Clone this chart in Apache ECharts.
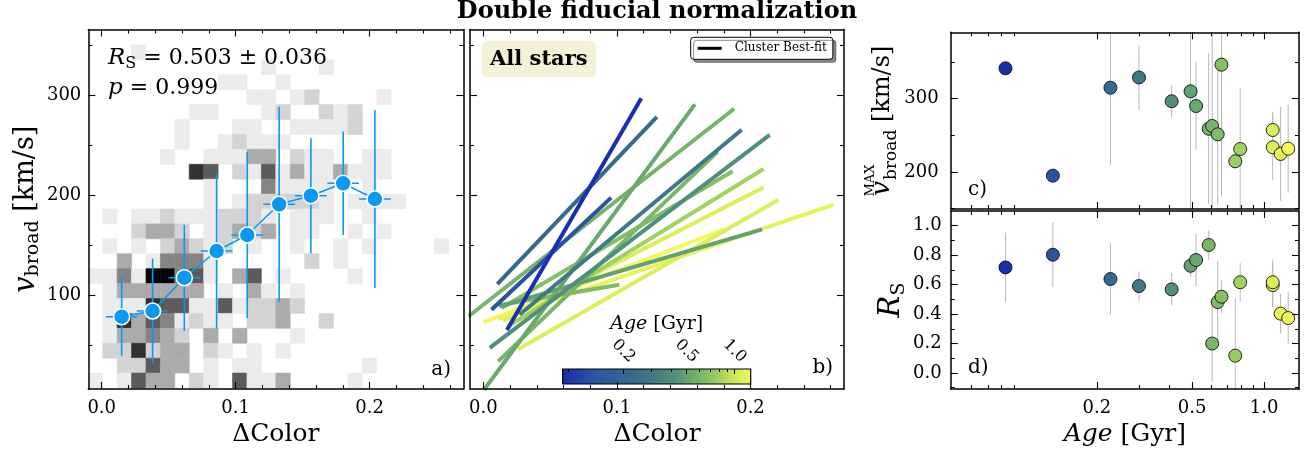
<!DOCTYPE html>
<html><head><meta charset="utf-8">
<script src="https://cdn.jsdelivr.net/npm/echarts@6/dist/echarts.min.js"></script>
<style>html,body{margin:0;padding:0;background:#fff}#c{width:1314px;height:458px}</style>
</head><body><div id="c"></div><script>
// ---------------- data ----------------
// panel a: 2D histogram (counts level 0..7), rows top (high v) -> bottom (low v)
const histXRange = [-0.01, 0.27];
const histYRange = [7, 365];
const histRows = [
"00000000000000000000000000",
"00010000000000000000000000",
"00000000000010001000000000",
"00000000011001000000000000",
"00000000000110120000100000",
"00000001100012002120000000",
"00000010001100111120000000",
"00000010012111000000000000",
"00000100111330211001100000",
"00000006502151311311100000",
"00000000100041111001000000",
"00000000101222221011110000",
"01011211122210111001000000",
"00023320123230110010100000",
"01010232120100100101000010",
"00301444100000020100000000",
"11417745103501000010000000",
"01333333010310100000000000",
"01116551151223200000000000",
"01635412110223002000000000",
"01334320303000100000000000",
"02262330210101000000000000",
"00225330101100000001000000",
"10153302105113000010000000"
];
// panel a: binned medians
const binColor = [0.0149, 0.0380, 0.0617, 0.0858, 0.1087, 0.1325, 0.1562, 0.1803, 0.2040];
const binColorErr = [0.0118, 0.0118, 0.0118, 0.0118, 0.0118, 0.0118, 0.0118, 0.0118, 0.0118];
const binVbroad = [78.3, 84, 117.3, 144, 160, 190.7, 199.3, 211.7, 196];
const binVbroadErr = [39, 52.5, 53, 77.5, 83, 97.5, 57.5, 51.7, 89];
// panel b: cluster best-fit segments
const fitX0 = [0.0184, 0.0072, 0.0115, 0.0284, 0.0060, 0.0013, -0.0099, 0.0130, 0.0134, 0.0122, 0.0150, 0.0200, 0.0162, 0.0274, 0.0013, 0.0125];
const fitY0 = [66.7, 86.7, 112.3, 81.7, 48.3, 6.7, 80, 90, 89, 35, 88, 70, 75, 46.7, 73.3, 76.7];
const fitX1 = [0.1175, 0.0946, 0.1289, 0.1923, 0.2132, 0.1575, 0.1866, 0.1003, 0.2072, 0.1742, 0.1853, 0.2085, 0.2085, 0.2197, 0.1791, 0.2607];
const fitY1 = [295, 196, 276.7, 264, 259, 289, 285, 110, 165, 241.7, 222.7, 225, 206.7, 194.3, 165, 189.7];
const fitAge = [0.083, 0.131, 0.228, 0.30, 0.411, 0.52, 0.587, 0.64, 0.493, 0.607, 0.664, 0.795, 1.087, 1.087, 1.262, 1.173];
// panels c, d: clusters
const clusterAge = [0.083, 0.131, 0.228, 0.30, 0.411, 0.493, 0.52, 0.587, 0.607, 0.64, 0.664, 0.758, 0.795, 1.087, 1.087, 1.173, 1.262];
const clusterVmax = [341.5, 195, 315, 329, 296.5, 310, 290, 259, 262.8, 251.4, 346.4, 214.6, 231.4, 257.3, 233.7, 224.6, 231.8];
const clusterVmaxErr = [8, 8, 105, 44, 22, 175, 60, 103, 135, 96, 180, 10, 83, 25, 45, 64, 60];
const clusterRs = [0.717, 0.803, 0.638, 0.59, 0.568, 0.728, 0.767, 0.869, 0.2, 0.482, 0.518, 0.118, 0.616, 0.597, 0.616, 0.403, 0.373];
const clusterRsErr = [0.235, 0.22, 0.243, 0.1, 0.11, 0.075, 0.18, 0.1, 0.26, 0.28, 0.11, 0.39, 0.13, 0.15, 0.15, 0.135, 0.175];
// ticks
const colorTicks = [0, 0.1, 0.2];
const colorMinor = [0.02, 0.04, 0.06, 0.08, 0.12, 0.14, 0.16, 0.18, 0.22, 0.24, 0.26];
const vTicks = [100, 200, 300];
const vMinor = [50, 150, 250, 350];
const vmaxTicks = [200, 300];
const vmaxMinor = [150, 250, 350];
const rsTicks = [0, 0.2, 0.4, 0.6, 0.8, 1.0];
const rsMinor = [-0.1, 0.1, 0.3, 0.5, 0.7, 0.9];
const ageTicks = [0.2, 0.5, 1.0];
const ageMinor = [0.06, 0.07, 0.08, 0.09, 0.3, 0.4, 0.6, 0.7, 0.8, 0.9];

// ---------------- styles ----------------
const FONT = 'DejaVu Serif';
const BLUE = '#069AF3';
const GRAY = ['#ffffff', '#ebebeb', '#d3d3d3', '#ababab', '#848484', '#5b5b5b', '#313131', '#060606'];
const cmapStops = [[0, '#1a2eb0'], [0.17, '#2a55a2'], [0.37, '#36698e'], [0.5, '#417d82'], [0.6, '#52917a'],
  [0.66, '#65a46f'], [0.75, '#80bb66'], [0.82, '#9ccf5e'], [0.93, '#d6ea5e'], [1.0, '#f4f85a']];
const AGE_MIN = Math.min(...clusterAge), AGE_MAX = Math.max(...clusterAge);
function ageT(a) { return Math.log(a / AGE_MIN) / Math.log(AGE_MAX / AGE_MIN); }
function hex(h) { return [1, 3, 5].map(i => parseInt(h.slice(i, i + 2), 16)); }
function cmap(t) {
  t = Math.max(0, Math.min(1, t));
  for (let i = 1; i < cmapStops.length; i++) {
    if (t <= cmapStops[i][0]) {
      const [t0, c0] = cmapStops[i - 1], [t1, c1] = cmapStops[i];
      const f = (t - t0) / (t1 - t0), a = hex(c0), b = hex(c1);
      return 'rgb(' + a.map((v, j) => Math.round(v + (b[j] - v) * f)).join(',') + ')';
    }
  }
  return cmapStops[cmapStops.length - 1][1];
}

// ---------------- axes ----------------
function axisSet(dim, grid, o) {
  const pos = dim === 'x' ? ['bottom', 'top'] : ['left', 'right'];
  const common = { gridIndex: grid, type: o.type || 'value', min: o.min, max: o.max, z: 10, silent: true,
    splitLine: { show: false }, minorTick: { show: false } };
  if (o.type === 'log') common.logBase = 10;
  const line = { show: true, onZero: false, lineStyle: { color: '#000', width: 1.5 } };
  const noLine = { show: false, onZero: false };
  const tick = (vals, len) => ({ show: true, inside: true, length: len, customValues: vals, lineStyle: { color: '#000', width: 1.1 } });
  const lab = o.labels ? { show: true, customValues: o.major, margin: o.margin, color: '#000', fontFamily: FONT, fontSize: 18 } : { show: false };
  if (o.labels && o.fmt) lab.formatter = o.fmt;
  const out = [];
  const main = Object.assign({}, common, { position: pos[0], axisLine: line, axisTick: tick(o.major, 7), axisLabel: lab });
  if (o.name) Object.assign(main, { name: o.name, nameLocation: 'middle', nameGap: o.nameGap, nameTextStyle: o.nameStyle });
  out.push(main);
  out.push(Object.assign({}, common, { position: pos[0], axisLine: noLine, axisTick: tick(o.minor, 4), axisLabel: { show: false } }));
  out.push(Object.assign({}, common, { position: pos[1], axisLine: line, axisTick: tick(o.major, 7), axisLabel: { show: false } }));
  out.push(Object.assign({}, common, { position: pos[1], axisLine: noLine, axisTick: tick(o.minor, 4), axisLabel: { show: false } }));
  return out;
}
const f1 = v => Number(v).toFixed(1);
const deltaName = { fontFamily: FONT, fontSize: 25, color: '#000' };
const ageName = { fontFamily: FONT, fontSize: 25, color: '#000', rich: {
  i: { fontFamily: FONT, fontSize: 25, fontStyle: 'italic', color: '#000' },
  t: { fontFamily: FONT, fontSize: 25, color: '#000' } } };
const vName = { fontFamily: FONT, fontSize: 27, color: '#000', rich: {
  i: { fontFamily: FONT, fontSize: 29, fontStyle: 'italic', lineHeight: 34, color: '#000' },
  s: { fontFamily: FONT, fontSize: 19, lineHeight: 22, verticalAlign: 'bottom', color: '#000' },
  t: { fontFamily: FONT, fontSize: 27, lineHeight: 34, color: '#000' } } };
const vmaxName = { fontFamily: FONT, fontSize: 24, color: '#000', rich: {
  i: { fontFamily: FONT, fontSize: 26, fontStyle: 'italic', lineHeight: 36, color: '#000' },
  u: { fontFamily: FONT, fontSize: 13, lineHeight: 15, verticalAlign: 'top', width: 1, color: '#000' },
  s: { fontFamily: FONT, fontSize: 17, lineHeight: 22, verticalAlign: 'bottom', color: '#000' },
  t: { fontFamily: FONT, fontSize: 24, lineHeight: 36, color: '#000' } } };
const rsName = { fontFamily: FONT, fontSize: 28, color: '#000', rich: {
  i: { fontFamily: FONT, fontSize: 29, fontStyle: 'italic', lineHeight: 34, color: '#000' },
  s: { fontFamily: FONT, fontSize: 19, lineHeight: 22, verticalAlign: 'bottom', color: '#000' } } };

const xAxes = [].concat(
  axisSet('x', 0, { min: histXRange[0], max: histXRange[1], major: colorTicks, minor: colorMinor, labels: true, fmt: f1, margin: 10, name: 'ΔColor', nameGap: 33, nameStyle: deltaName }),
  axisSet('x', 1, { min: histXRange[0], max: histXRange[1], major: colorTicks, minor: colorMinor, labels: true, fmt: f1, margin: 10, name: 'ΔColor', nameGap: 33, nameStyle: deltaName }),
  axisSet('x', 2, { type: 'log', min: 0.049, max: 1.4, major: ageTicks, minor: ageMinor, labels: false }),
  axisSet('x', 3, { type: 'log', min: 0.049, max: 1.4, major: ageTicks, minor: ageMinor, labels: true, fmt: f1, margin: 10, name: '{i|Age}{t| [Gyr]}', nameGap: 33, nameStyle: ageName }),
  [
    { gridIndex: 4, type: 'log', logBase: 10, min: AGE_MIN, max: AGE_MAX, position: 'top', z: 10, silent: true,
      splitLine: { show: false }, axisLine: { show: false, onZero: false },
      axisTick: { show: true, inside: true, length: 5, customValues: ageTicks, lineStyle: { color: '#000', width: 1 } },
      axisLabel: { show: true, customValues: ageTicks, formatter: f1, rotate: 45, align: 'center', verticalAlign: 'middle', margin: 18, color: '#000', fontFamily: FONT, fontSize: 16 } },
    { gridIndex: 4, type: 'log', logBase: 10, min: AGE_MIN, max: AGE_MAX, position: 'top', z: 10, silent: true,
      splitLine: { show: false }, axisLine: { show: false, onZero: false },
      axisTick: { show: true, inside: true, length: 3, customValues: ageMinor, lineStyle: { color: '#000', width: 1 } },
      axisLabel: { show: false } }
  ]
);
const yAxes = [].concat(
  axisSet('y', 0, { min: 6, max: 365.5, major: vTicks, minor: vMinor, labels: true, margin: 7, name: '{i|v}{s|broad}{t| [km/s]}', nameGap: 45, nameStyle: vName }),
  axisSet('y', 1, { min: 6, max: 365.5, major: vTicks, minor: vMinor, labels: false }),
  axisSet('y', 2, { min: 149.5, max: 390.6, major: vmaxTicks, minor: vmaxMinor, labels: true, margin: 12, name: '{i|v}{u|MAX}{s|broad}{t| [km/s]}', nameGap: 42, nameStyle: vmaxName }),
  axisSet('y', 3, { min: -0.1086, max: 1.0998, major: rsTicks, minor: rsMinor, labels: true, fmt: f1, margin: 9, name: '{i|R}{s|S}', nameGap: 42, nameStyle: rsName }),
  [{ gridIndex: 4, type: 'value', min: 0, max: 1, show: false }]
);

// ---------------- series ----------------
const NX = histRows[0].length, NY = histRows.length;
const bw = (histXRange[1] - histXRange[0]) / NX, bh = (histYRange[1] - histYRange[0]) / NY;
const histData = [];
histRows.forEach((row, r) => {
  for (let i = 0; i < NX; i++) {
    const n = +row[i];
    if (n > 0) histData.push([histXRange[0] + (i + 0.5) * bw, histYRange[1] - (r + 0.5) * bh, n]);
  }
});
const series = [];
series.push({
  type: 'custom', xAxisIndex: 0, yAxisIndex: 0, clip: true, silent: true, z: 1, data: histData,
  renderItem: (p, api) => {
    const x = api.value(0), y = api.value(1), n = api.value(2);
    const a = api.coord([x - bw / 2, y + bh / 2]), b = api.coord([x + bw / 2, y - bh / 2]);
    return { type: 'rect', shape: { x: a[0], y: a[1], width: b[0] - a[0], height: b[1] - a[1] },
      style: { fill: GRAY[n], stroke: GRAY[n], lineWidth: 0.6 } };
  }
});
series.push({
  type: 'custom', xAxisIndex: 0, yAxisIndex: 0, clip: true, silent: true, z: 3,
  data: binColor.map((x, i) => [x, binVbroad[i], binColorErr[i], binVbroadErr[i]]),
  renderItem: (p, api) => {
    const x = api.value(0), y = api.value(1), xe = api.value(2), ye = api.value(3);
    const t = api.coord([x, y + ye]), b = api.coord([x, y - ye]), l = api.coord([x - xe, y]), r = api.coord([x + xe, y]);
    return { type: 'group', children: [
      { type: 'line', shape: { x1: t[0], y1: t[1], x2: b[0], y2: b[1] }, style: { stroke: BLUE, lineWidth: 1.6 } },
      { type: 'line', shape: { x1: l[0], y1: l[1], x2: r[0], y2: r[1] }, style: { stroke: BLUE, lineWidth: 1.6 } }
    ] };
  }
});
series.push({
  type: 'line', xAxisIndex: 0, yAxisIndex: 0, z: 5, silent: true,
  data: binColor.map((x, i) => [x, binVbroad[i]]),
  symbol: 'circle', symbolSize: 16, showSymbol: true,
  lineStyle: { color: BLUE, width: 1.5 },
  itemStyle: { color: BLUE, borderColor: '#fff', borderWidth: 1.6 }
});
// panel b lines, older (yellow) drawn first
fitAge.map((a, i) => i).sort((i, j) => fitAge[j] - fitAge[i]).forEach(i => {
  series.push({
    type: 'line', xAxisIndex: 4, yAxisIndex: 4, silent: true, z: 3, symbol: 'none',
    data: [[fitX0[i], fitY0[i]], [fitX1[i], fitY1[i]]],
    lineStyle: { color: cmap(ageT(fitAge[i])), width: 4, cap: 'square' }
  });
});
series.push({ type: 'line', name: 'Cluster Best-fit', xAxisIndex: 4, yAxisIndex: 4, data: [], color: '#000',
  lineStyle: { color: '#000', width: 3 } });
function errSeries(xi, vals, errs) {
  return {
    type: 'custom', xAxisIndex: xi, yAxisIndex: xi, clip: true, silent: true, z: 2,
    data: clusterAge.map((a, i) => [a, vals[i], errs[i]]),
    renderItem: (p, api) => {
      const x = api.value(0), y = api.value(1), e = api.value(2);
      const t = api.coord([x, y + e]), b = api.coord([x, y - e]);
      return { type: 'line', shape: { x1: t[0], y1: t[1], x2: b[0], y2: b[1] }, style: { stroke: '#b8b8b8', lineWidth: 1 } };
    }
  };
}
function scatterSeries(xi, vals) {
  return {
    type: 'scatter', xAxisIndex: xi, yAxisIndex: xi, z: 4, silent: true, symbolSize: 13,
    data: clusterAge.map((a, i) => ({ value: [a, vals[i]], itemStyle: { color: cmap(ageT(a)) } })),
    itemStyle: { borderColor: '#111', borderWidth: 0.9, opacity: 1 }
  };
}
series.push(errSeries(8, clusterVmax, clusterVmaxErr));
series.push(scatterSeries(8, clusterVmax));
series.push(errSeries(12, clusterRs, clusterRsErr));
series.push(scatterSeries(12, clusterRs));
// colorbar
series.push({
  type: 'custom', xAxisIndex: 16, yAxisIndex: 16, silent: true, z: 2, data: [[AGE_MIN, 0]],
  renderItem: (p, api) => {
    const a = api.coord([AGE_MIN, 1]), b = api.coord([AGE_MAX, 0]);
    return { type: 'rect', shape: { x: a[0], y: a[1], width: b[0] - a[0], height: b[1] - a[1] },
      style: { fill: { type: 'linear', x: 0, y: 0, x2: 1, y2: 0, colorStops: cmapStops.map(s => ({ offset: s[0], color: s[1] })) },
        stroke: '#000', lineWidth: 1.2 } };
  }
});

// ---------------- text ----------------
const txt = (x, y, text, size, align, extra) => ({ type: 'text', x: x, y: y, z: 100, silent: true,
  style: Object.assign({ text: text, fontFamily: FONT, fontSize: size, fill: '#000', align: align || 'left', verticalAlign: 'middle' }, extra || {}) });
const graphic = [
  txt(108, 58, '{i|R}{s|S}{t| = 0.503 ± 0.036}', 22, 'left', { rich: {
    i: { fontFamily: FONT, fontSize: 23, fontStyle: 'italic', lineHeight: 28, fill: '#000' },
    s: { fontFamily: FONT, fontSize: 16, lineHeight: 18, verticalAlign: 'bottom', fill: '#000' },
    t: { fontFamily: FONT, fontSize: 22, lineHeight: 28, fill: '#000' } } }),
  txt(108, 88, '{i|p}{t| = 0.999}', 22, 'left', { rich: {
    i: { fontFamily: FONT, fontSize: 23, fontStyle: 'italic', lineHeight: 28, fill: '#000' },
    t: { fontFamily: FONT, fontSize: 22, lineHeight: 28, fill: '#000' } } }),
  txt(451, 370, 'a)', 20, 'right'),
  txt(833, 368, 'b)', 20, 'right'),
  txt(968, 190, 'c)', 20, 'left'),
  txt(968, 368, 'd)', 20, 'left'),
  { type: 'rect', z: 99, silent: true, shape: { x: 481.7, y: 40.7, width: 114.3, height: 36.6, r: 6 }, style: { fill: '#f3f1d6' } },
  txt(538.8, 59.5, 'All stars', 21, 'center', { fontWeight: 'bold' }),
  txt(656.7, 324, '{i|Age}{t| [Gyr]}', 19, 'center', { rich: {
    i: { fontFamily: FONT, fontSize: 19, fontStyle: 'italic', fill: '#000' },
    t: { fontFamily: FONT, fontSize: 19, fill: '#000' } } })
];

const option = {
  animation: false,
  backgroundColor: '#fff',
  title: { text: 'Double fiducial normalization', left: 'center', top: 0, padding: 0,
    textStyle: { fontFamily: FONT, fontWeight: 'bold', fontSize: 24, color: '#000' } },
  legend: { data: [{ name: 'Cluster Best-fit', icon: 'rect' }], left: 690.7, top: 37.3, selectedMode: false,
    itemWidth: 24, itemHeight: 3, padding: [5, 6, 5, 7], backgroundColor: '#fff', borderColor: '#000', borderWidth: 1,
    borderRadius: 3, shadowColor: 'rgba(0,0,0,0.45)', shadowOffsetX: 3, shadowOffsetY: 3, shadowBlur: 0,
    textStyle: { fontFamily: FONT, fontSize: 12, color: '#000', padding: [0, 0, 0, 8] } },
  grid: [
    { left: 88.3, top: 29.5, width: 375, height: 359.5 },
    { left: 470, top: 29.5, width: 374, height: 359.5 },
    { left: 950.7, top: 32.3, width: 348.3, height: 176.7 },
    { left: 950.7, top: 211, width: 348.3, height: 178 },
    { left: 562.7, top: 369, width: 188, height: 15 }
  ],
  xAxis: xAxes,
  yAxis: yAxes,
  series: series,
  graphic: graphic
};
const chart = echarts.init(document.getElementById('c'), null, { renderer: 'canvas' });
chart.setOption(option);
</script></body></html>
